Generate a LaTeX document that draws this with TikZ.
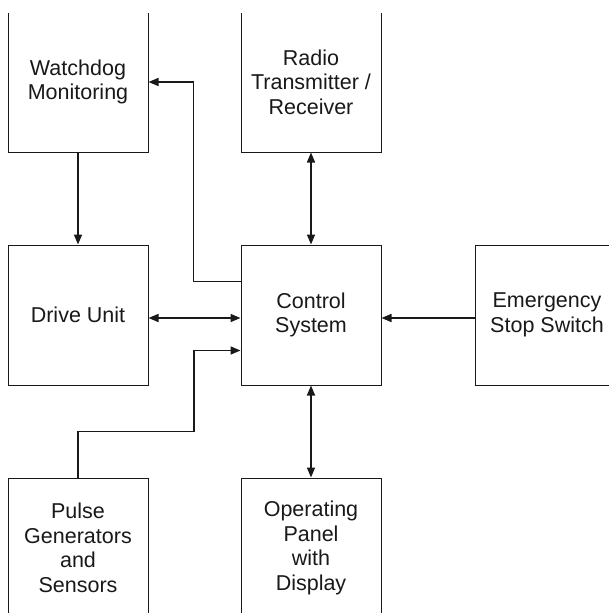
\documentclass[tikz,border=0pt]{standalone}
\usepackage{fontspec}
\setmainfont{Liberation Sans}
\usetikzlibrary{arrows.meta}
\begin{document}
\begin{tikzpicture}[x=1pt,y=-1pt,
  txt/.style={inner sep=0pt, align=center, text=black!90, font=\fontsize{21.5}{24.5}\selectfont},
  box/.style={txt, draw=black!90, line width=1pt, minimum width=140pt, minimum height=140pt},
  conn/.style={draw=black!90, line width=1.5pt},
  arr/.style={conn, -{Triangle[length=10pt,width=8pt]}},
  darr/.style={conn, {Triangle[length=10pt,width=8pt]}-{Triangle[length=10pt,width=8pt]}}]
\useasboundingbox (0,0) rectangle (609,613);
\fill[white] (0,0) rectangle (609,613);
\begin{scope}
\clip (0,13) rectangle (609,613);
\node[box] (wd) at (78,82) {Watchdog\\Monitoring};
\node[box] (rt) at (311,82) {Radio\\Transmitter /\\Receiver};
\node[box] (du) at (78,315) {Drive Unit};
\node[box] (cs) at (311,315) {Control\\System};
\node[box, minimum width=160pt, anchor=west] (es) at (475,315) {};
\node[txt] (estxt) at ([xshift=72pt]es.west) {Emergency\\Stop Switch};
\node[box] (pg) at (78,548) {Pulse\\Generators\\and\\Sensors};
\node[box] (op) at (311,548) {Operating\\Panel\\with\\Display};

\draw[arr] (wd.south) -- (du.north);
\draw[arr] ([yshift=-37pt]cs.north west) -- ++(-47,0) |- (wd.east);
\draw[darr] (rt.south) -- (cs.north);
\draw[darr] ([yshift=-3pt]du.east) -- ([yshift=-3pt]cs.west);
\draw[arr] ([yshift=-3pt]es.west) -- ([yshift=-3pt]cs.east);
\draw[arr] (pg.north) -- ++(0,-46) -- ++(116,0) |- ([yshift=-106pt]cs.north west);
\draw[darr] (cs.south) -- (op.north);
\end{scope}
\end{tikzpicture}
\end{document}
